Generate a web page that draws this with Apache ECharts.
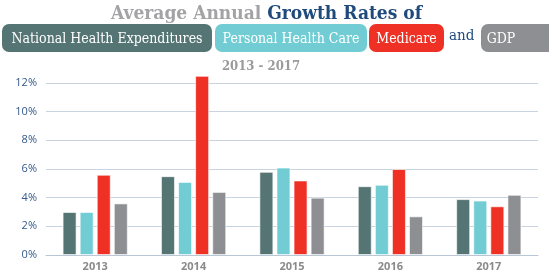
<!DOCTYPE html>
<html>
<head>
<meta charset="utf-8">
<title>Average Annual Growth Rates</title>
<script src="https://cdn.jsdelivr.net/npm/echarts@6/dist/echarts.min.js"></script>
<style>
  html, body { margin: 0; padding: 0; background: #fff; }
  #chart { width: 549px; height: 272px; }
</style>
</head>
<body>
<div id="chart"></div>
<script>
// years on the x axis
var years = ["2013", "2014", "2015", "2016", "2017"];
// growth rates (%)
var nationalHealth = [3.0, 5.5, 5.8, 4.8, 3.9];
var personalHealth = [3.0, 5.1, 6.1, 4.9, 3.8];
var medicare = [5.6, 12.5, 5.2, 6.0, 3.4];
var gdp = [3.6, 4.4, 4.0, 2.7, 4.2];
// y axis ticks
var yTicks = [0, 2, 4, 6, 8, 10, 12];

var colors = {
  nhe: "#557575",
  phc: "#71cdd3",
  med: "#ee3124",
  gdp: "#8e8f92"
};
var serif = "'DejaVu Serif Condensed', 'DejaVu Serif', serif";

// pill shaped header boxes (act as the legend)
function pill(x, w, fill, label, textX) {
  return {
    type: "group",
    left: x,
    top: 24,
    children: [
      { type: "rect", shape: { x: 0, y: 0, width: w, height: 28, r: 7 }, style: { fill: fill } },
      {
        type: "text",
        x: textX != null ? textX : w / 2, y: 15,
        style: {
          text: label, fill: "#fff", font: "14px " + serif,
          align: "center", verticalAlign: "middle"
        }
      }
    ]
  };
}

var chart = echarts.init(document.getElementById("chart"));

function bar(name, data, color) {
  return {
    name: name,
    type: "bar",
    data: data,
    clip: false,
    barWidth: 14,
    barGap: "22%",
    itemStyle: { color: color, borderColor: "rgba(255,255,255,0.6)", borderWidth: 1 }
  };
}

chart.setOption({
  animation: false,
  title: {
    left: 106,
    top: 0,
    text: "{a|Average Annual }{b|Growth Rates of}",
    textStyle: {
      rich: {
        a: { fontFamily: serif, fontSize: 19, fontWeight: "bold", color: "#a3a3a5" },
        b: { fontFamily: serif, fontSize: 19, fontWeight: "bold", color: "#1f4a7c" }
      }
    }
  },
  graphic: [
    pill(2, 210, colors.nhe, "National Health Expenditures"),
    pill(215, 152, colors.phc, "Personal Health Care"),
    pill(369, 75, colors.med, "Medicare"),
    {
      type: "text",
      left: 449, top: 29,
      style: { text: "and", fill: "#1f4a7c", font: "15px " + serif }
    },
    pill(481, 76, colors.gdp, "GDP", 20),
    {
      type: "text",
      x: 261, y: 67,
      style: { text: "2013 - 2017", fill: "#9a9a9c", font: "bold 13px " + serif, align: "center", verticalAlign: "middle" }
    }
  ],
  grid: { left: 46, right: 11, top: 83, bottom: 16 },
  xAxis: {
    type: "category",
    data: years,
    axisLine: { lineStyle: { color: "#b9c6d6" } },
    axisTick: { show: false },
    axisLabel: { color: "#8a8a8c", fontWeight: "bold", fontSize: 11, margin: 6, fontFamily: "'Open Sans', sans-serif" }
  },
  yAxis: {
    type: "value",
    min: 0,
    max: 12,
    interval: 2,
    axisLine: { show: false },
    axisTick: { show: false },
    axisLabel: {
      color: "#34588a", fontSize: 11, margin: 9, fontFamily: "'Open Sans', sans-serif",
      formatter: function (v) { return yTicks.indexOf(v) >= 0 ? v + "%" : ""; }
    },
    splitLine: { lineStyle: { color: "#c9d4e2", width: 1 } }
  },
  series: [
    bar("National Health Expenditures", nationalHealth, colors.nhe),
    bar("Personal Health Care", personalHealth, colors.phc),
    bar("Medicare", medicare, colors.med),
    bar("GDP", gdp, colors.gdp)
  ]
});
</script>
</body>
</html>
